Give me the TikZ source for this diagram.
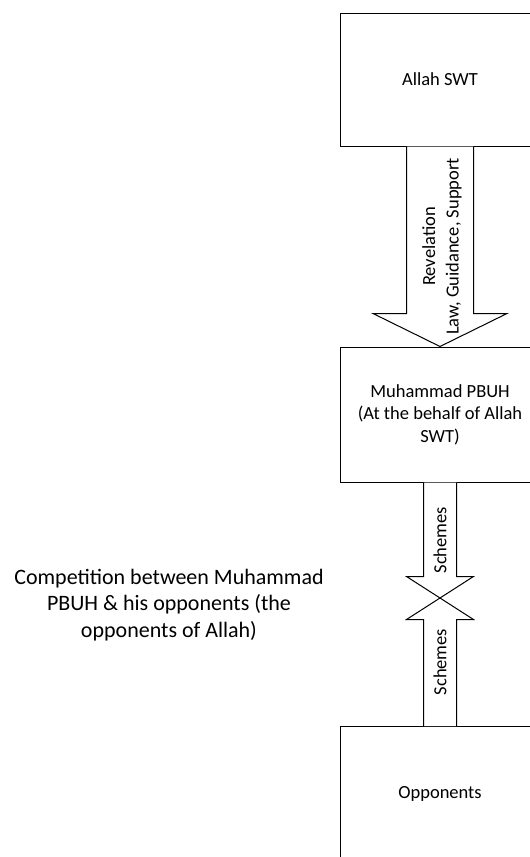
\documentclass[tikz,border=0pt]{standalone}
\usepackage{fontspec}
\setmainfont{Carlito}
\usetikzlibrary{calc}
\begin{document}
\begin{tikzpicture}[x=1pt,y=-1pt,
  box/.style={draw, line width=1pt, minimum width=200pt, minimum height=133pt, inner sep=0pt, align=center, font=\fontsize{18.5}{22.5}\selectfont},
  blockarrow/.style={draw, line width=1pt, fill=white, line join=miter},
  lbl/.style={font=\fontsize{18.5}{23.5}\selectfont, rotate=90, align=center, inner sep=0pt}]
\useasboundingbox (0,0) rectangle (530,857);
\clip (0,0) rectangle (530,857);
\node[box] (allah) at (440,79.5) {Allah SWT};
\node[box, minimum height=135pt] (muh) at (440,414.5) {Muhammad PBUH\\(At the behalf of Allah\\SWT)};
\node[box, minimum height=135pt] (opp) at (440,794) {Opponents};
\coordinate (cross) at (440,598);
% big arrow
\draw[blockarrow] ($(allah.south)+(-33.5,0)$) -- ($(allah.south)+(-33.5,167)$) -- ($(allah.south)+(-67,167)$) -- (muh.north) -- ($(allah.south)+(67,167)$) -- ($(allah.south)+(33.5,167)$) -- ($(allah.south)+(33.5,0)$);
\node[lbl] (rev) at ($(allah.south)!0.5!(muh.north)+(2,0)$) {Revelation\\Law, Guidance, Support};
% down arrow
\draw[blockarrow] ($(muh.south)+(-16.5,0)$) -- ($(muh.south)+(-16.5,94)$) -- ($(muh.south)+(-33.5,94)$) -- (cross) -- ($(muh.south)+(33.5,94)$) -- ($(muh.south)+(16.5,94)$) -- ($(muh.south)+(16.5,0)$);
% up arrow
\draw[blockarrow] ($(opp.north)+(-16.5,0)$) -- ($(opp.north)+(-16.5,-106.5)$) -- ($(opp.north)+(-33.5,-106.5)$) -- (cross) -- ($(opp.north)+(33.5,-106.5)$) -- ($(opp.north)+(16.5,-106.5)$) -- ($(opp.north)+(16.5,0)$);
\node[lbl] (sch1) at ($(muh.south)!0.5!(cross)$) {Schemes};
\node[lbl] (sch2) at ($(cross)!0.5!(opp.north)$) {Schemes};
\node[font=\fontsize{22}{26.7}\selectfont, align=center] (comp) at (169,605) {Competition between Muhammad\\PBUH \& his opponents (the\\opponents of Allah)};
\end{tikzpicture}
\end{document}
